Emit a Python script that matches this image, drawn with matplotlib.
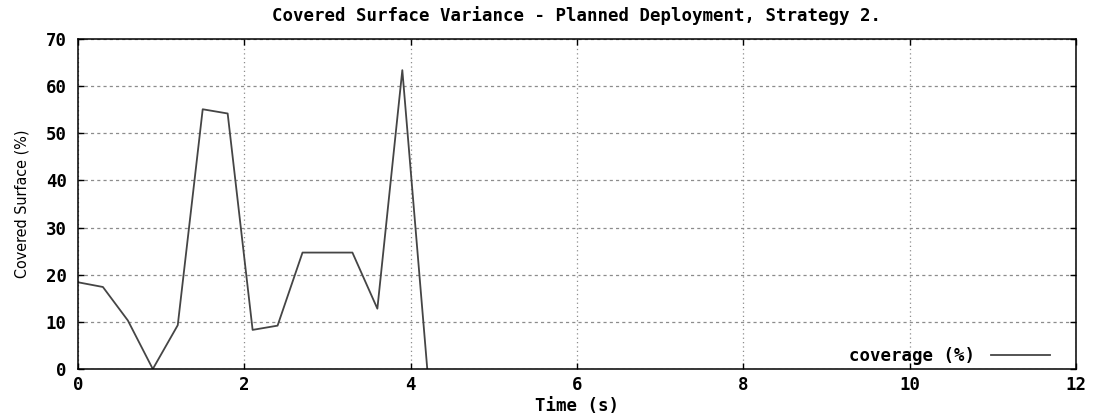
import numpy as np
import matplotlib as mpl
from matplotlib import pyplot as plt

mpl.rcParams['font.family'] = 'DejaVu Sans Mono'
mpl.rcParams['font.weight'] = 'bold'

# coverage samples
time_s = [0.0, 0.3, 0.6, 0.9, 1.2, 1.5, 1.8, 2.1, 2.4, 2.7, 3.0, 3.3, 3.6, 3.9, 4.2]
coverage = [18.4, 17.4, 10.3, 0.0, 9.3, 55.1, 54.2, 8.3, 9.2, 24.7, 24.7, 24.7, 12.8, 63.4, 0.0]
x_ticks = [0, 2, 4, 6, 8, 10, 12]
y_ticks = [0, 10, 20, 30, 40, 50, 60, 70]

fs = 12.5

fig = plt.figure(figsize=(11.01, 4.2), dpi=100)
ax = fig.add_axes([0.0708, 0.1214, 0.9065, 0.7857])

ax.plot(time_s, coverage, color='#454545', lw=1.3, label='coverage (%)')

ax.set_xlim(0, 12)
ax.set_ylim(0, 70)
ax.set_xticks(x_ticks)
ax.set_yticks(y_ticks)
ax.tick_params(direction='in', length=4, width=1, top=True, right=True,
               labelsize=fs, colors='black')
ax.tick_params(axis='x', pad=5)
ax.tick_params(axis='y', pad=8)
ax.xaxis.grid(True, color='#8c8c8c', linestyle=(0, (1, 2.5)), lw=0.9)
ax.yaxis.grid(True, color='#8c8c8c', linestyle=(0, (2.5, 2.5)), lw=0.9)
for s in ax.spines.values():
    s.set_linewidth(1.1)

ax.set_title('Covered Surface Variance - Planned Deployment, Strategy 2.',
             fontsize=fs, fontweight='bold', pad=13)
ax.set_xlabel('Time (s)', fontsize=fs, fontweight='bold', labelpad=2)
ax.set_ylabel('Covered Surface (%)', fontsize=11.5, fontweight='medium',
              family='DejaVu Sans', fontstretch='condensed', labelpad=12)

leg = ax.legend(loc='center right', bbox_to_anchor=(0.974, 0.039), frameon=False,
                fontsize=fs, handlelength=3.4, handletextpad=0.9,
                markerfirst=False, borderpad=0, borderaxespad=0)

fig.savefig('out.png', dpi=100)
